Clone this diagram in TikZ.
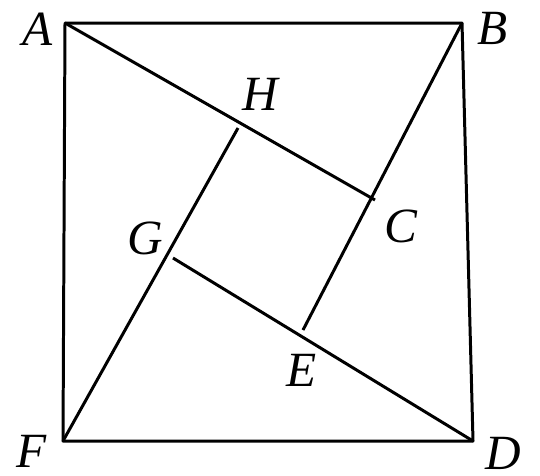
\documentclass[tikz,border=0pt]{standalone}
\usepackage{fontspec}
\setmainfont{Liberation Serif}
\begin{document}
\begin{tikzpicture}[x=0.01cm, y=-0.01cm, line width=0.85pt, line join=round,
    lbl/.style={font=\fontsize{14}{16}\selectfont\itshape, inner sep=0pt}]
    \useasboundingbox (0,0) rectangle (540,475);

        % --- Вершины большого квадрата ---
        \coordinate (A) at (65,23);
        \coordinate (B) at (462,23);
        \coordinate (D) at (473,441);
        \coordinate (F) at (63,441);

        % --- Вершины внутреннего квадрата ---
        \coordinate (H) at (238,128);
        \coordinate (C) at (375,200);
        \coordinate (E) at (303,330);
        \coordinate (G) at (173,258);

        % --- Большой квадрат ---
        \draw (A) -- (B) -- (D) -- (F) -- cycle;

        % --- Отрезки от вершин ---
        \draw (A) -- (C);
        \draw (B) -- (E);
        \draw (D) -- (G);
        \draw (F) -- (H);

        % --- Подписи ---
        \node[lbl] (lA) at (38,29)  {A};
        \node[lbl] (lB) at (493,28) {B};
        \node[lbl] (lD) at (503,453) {D};
        \node[lbl] (lF) at (32,451) {F};
        \node[lbl] (lH) at (260,94) {H};
        \node[lbl] (lC) at (401,226) {C};
        \node[lbl] (lE) at (302,370) {E};
        \node[lbl] (lG) at (145,238) {G};

    \end{tikzpicture}
\end{document}
